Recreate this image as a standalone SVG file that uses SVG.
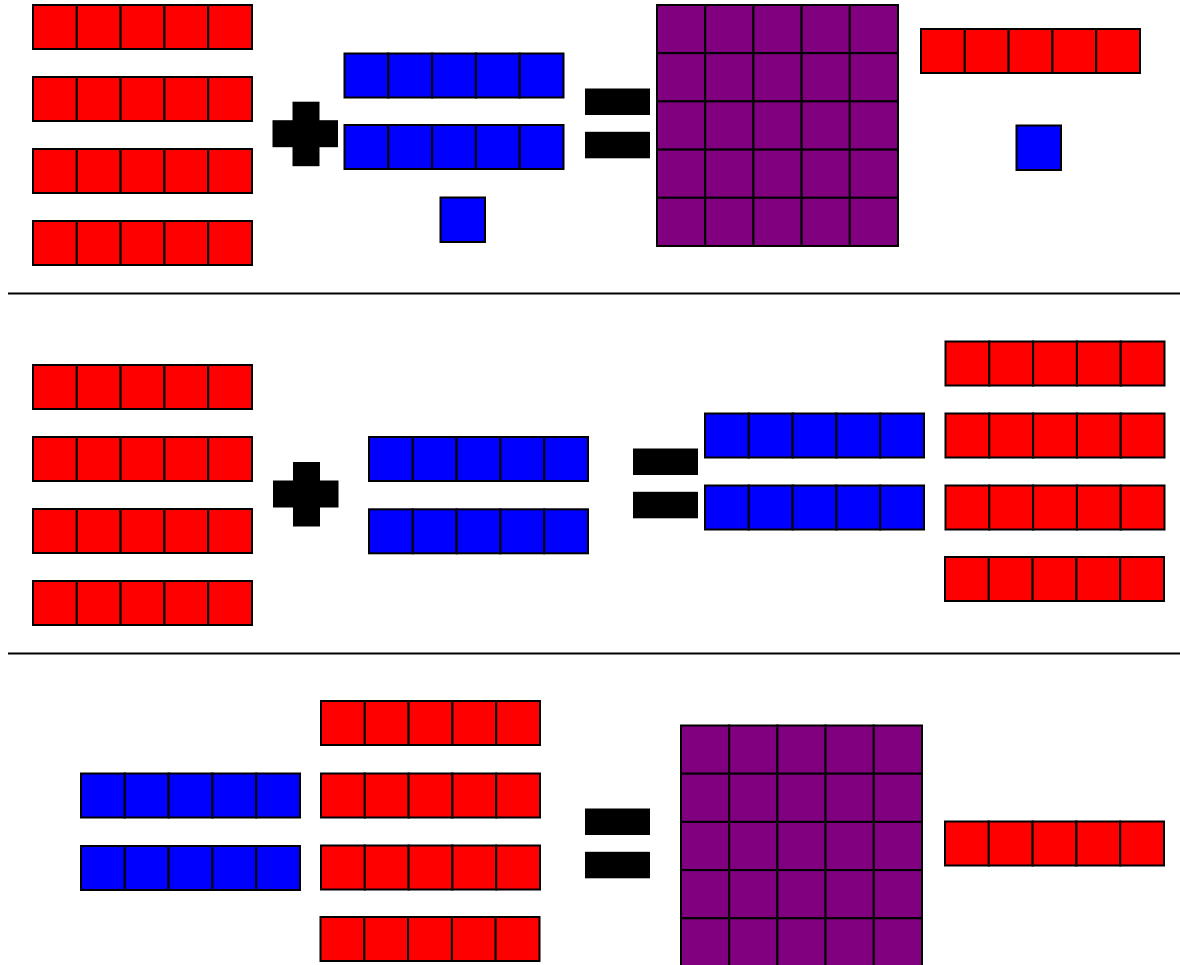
<svg xmlns="http://www.w3.org/2000/svg" xmlns:xlink="http://www.w3.org/1999/xlink" width="1180" height="965" viewBox="0 0 1180 965">
<style>
.r{fill:#ff0000;stroke:#000;stroke-width:2}
.b{fill:#0000ff;stroke:#000;stroke-width:2}
.p{fill:#800080;stroke:#000;stroke-width:2}
.op{fill:#000}
.sep{stroke:#000;stroke-width:2}
</style>
<defs>
<g id="redBar">
<rect class="r" x="0" y="0" width="43.8" height="44"/><rect class="r" x="43.8" y="0" width="43.8" height="44"/><rect class="r" x="87.6" y="0" width="43.8" height="44"/><rect class="r" x="131.4" y="0" width="43.8" height="44"/><rect class="r" x="175.2" y="0" width="43.8" height="44"/>
</g>
<g id="blueBar">
<rect class="b" x="0" y="0" width="43.8" height="44"/><rect class="b" x="43.8" y="0" width="43.8" height="44"/><rect class="b" x="87.6" y="0" width="43.8" height="44"/><rect class="b" x="131.4" y="0" width="43.8" height="44"/><rect class="b" x="175.2" y="0" width="43.8" height="44"/>
</g>
<g id="purpleRow">
<rect class="p" x="0" y="0" width="48.2" height="48.2"/><rect class="p" x="48.2" y="0" width="48.2" height="48.2"/><rect class="p" x="96.4" y="0" width="48.2" height="48.2"/><rect class="p" x="144.6" y="0" width="48.2" height="48.2"/><rect class="p" x="192.8" y="0" width="48.2" height="48.2"/>
</g>
<g id="purpleGrid">
<use xlink:href="#purpleRow" y="0"/><use xlink:href="#purpleRow" y="48.2"/><use xlink:href="#purpleRow" y="96.4"/><use xlink:href="#purpleRow" y="144.6"/><use xlink:href="#purpleRow" y="192.8"/>
</g>
<g id="plusSign">
<rect class="op" x="0" y="18.5" width="65.5" height="27"/><rect class="op" x="20" y="0" width="27" height="64.5"/>
</g>
<g id="equalsSign">
<rect class="op" x="0" y="0" width="65" height="26.5"/><rect class="op" x="0" y="43.3" width="65" height="26.5"/>
</g>
</defs>
<rect width="1180" height="965" fill="#fff"/>
<g id="separators">
<line class="sep" x1="8" y1="293.5" x2="1180" y2="293.5"/>
<line class="sep" x1="8" y1="653.5" x2="1180" y2="653.5"/>
</g>
<g id="connectors"></g>
<!-- Row 1 -->
<g id="row1-red-tens"><use xlink:href="#redBar" x="33" y="5"/><use xlink:href="#redBar" x="33" y="77"/><use xlink:href="#redBar" x="33" y="149"/><use xlink:href="#redBar" x="33" y="221"/></g>
<g id="row1-plus"><use xlink:href="#plusSign" x="272.5" y="101.7"/></g>
<g id="row1-blue"><use xlink:href="#blueBar" x="344.5" y="53.5"/><use xlink:href="#blueBar" x="344.5" y="125"/><rect class="b" x="440.5" y="197.5" width="44.5" height="44.5"/></g>
<g id="row1-equals"><use xlink:href="#equalsSign" x="585" y="88.5"/></g>
<g id="row1-purple"><use xlink:href="#purpleGrid" x="657" y="5"/></g>
<g id="row1-result"><use xlink:href="#redBar" x="921" y="29"/><rect class="b" x="1016.5" y="125.5" width="44.5" height="44.5"/></g>
<!-- Row 2 -->
<g id="row2-red-tens"><use xlink:href="#redBar" x="33" y="365"/><use xlink:href="#redBar" x="33" y="437"/><use xlink:href="#redBar" x="33" y="509"/><use xlink:href="#redBar" x="33" y="581"/></g>
<g id="row2-plus"><use xlink:href="#plusSign" x="273" y="462"/></g>
<g id="row2-blue"><use xlink:href="#blueBar" x="369" y="437"/><use xlink:href="#blueBar" x="369" y="509.3"/></g>
<g id="row2-equals"><use xlink:href="#equalsSign" x="633" y="448.5"/></g>
<g id="row2-blue-result"><use xlink:href="#blueBar" x="705" y="413.5"/><use xlink:href="#blueBar" x="705" y="485.5"/></g>
<g id="row2-red-result"><use xlink:href="#redBar" x="945.5" y="341.5"/><use xlink:href="#redBar" x="945.5" y="413.5"/><use xlink:href="#redBar" x="945.5" y="485.5"/><use xlink:href="#redBar" x="945" y="557"/></g>
<!-- Row 3 -->
<g id="row3-blue"><use xlink:href="#blueBar" x="81" y="773.5"/><use xlink:href="#blueBar" x="81" y="846"/></g>
<g id="row3-red"><use xlink:href="#redBar" x="321" y="701"/><use xlink:href="#redBar" x="321" y="773.5"/><use xlink:href="#redBar" x="321" y="845.5"/><use xlink:href="#redBar" x="320.5" y="917"/></g>
<g id="row3-equals"><use xlink:href="#equalsSign" x="585" y="808.5"/></g>
<g id="row3-purple"><use xlink:href="#purpleGrid" x="681" y="725.5"/></g>
<g id="row3-result"><use xlink:href="#redBar" x="945" y="821.5"/></g>
</svg>
